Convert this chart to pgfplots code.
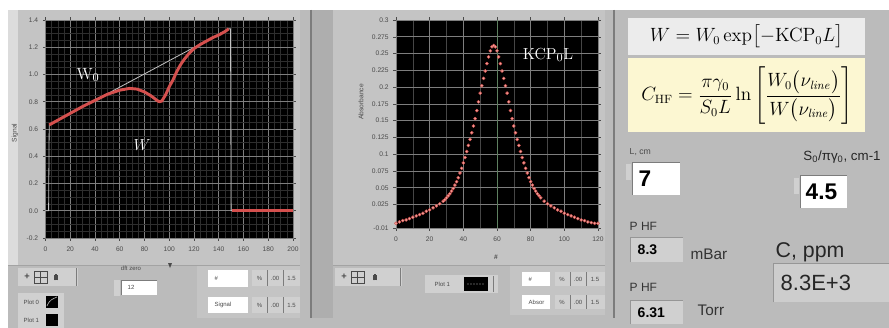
\documentclass[border=0pt]{standalone}
\usepackage{amsmath}
\usepackage{pgfplots}
\pgfplotsset{compat=1.18}
\usepackage[no-math]{fontspec}
\setmainfont{Liberation Sans}
\setsansfont{Liberation Sans}
\definecolor{panel}{HTML}{BBBBBB}
\definecolor{frame}{HTML}{C4C4C4}
\definecolor{band}{HTML}{AEAEAE}
\definecolor{sep}{HTML}{7C7C7C}
\definecolor{curve}{HTML}{D4504E}
\definecolor{dotfill}{HTML}{F2A8A0}
\definecolor{wzero}{HTML}{C4C4C4}
\definecolor{gmaj}{HTML}{7E7E7E}
\definecolor{gmin}{HTML}{2E2E2E}
\definecolor{ggreen}{HTML}{5E8060}
\definecolor{tickc}{HTML}{4A4A4A}
\definecolor{cream}{HTML}{FCF7D2}
\definecolor{boxgray}{HTML}{ECECEC}
\definecolor{fieldgray}{HTML}{D0D0D0}
\definecolor{ctrl}{HTML}{D0D0D0}

\pgfplotstableread{
x y
3 0.63
10 0.665
20 0.715
30 0.765
40 0.81
50 0.855
60 0.885
68 0.898
74 0.893
80 0.872
85 0.845
88 0.825
90 0.81
92 0.80
94 0.805
97 0.85
100 0.91
103 0.96
106 1.02
109 1.07
112 1.11
116 1.155
120 1.19
125 1.22
130 1.245
135 1.27
140 1.29
145 1.315
148 1.335
}\redW

\pgfplotstableread{
x y
0 0.0
2.5 0.0
3 0.63
148 1.335
149.5 1.335
150 0.0
200 0.0
}\grayW

\pgfplotstableread{
x y
0 -0.003
2 -0.001
4 0.001
6 0.002
8 0.004
10 0.006
12 0.008
14 0.010
16 0.012
18 0.015
20 0.017
22 0.020
24 0.023
26 0.026
28 0.030
29 0.032
30 0.035
31 0.038
32 0.041
33 0.045
34 0.049
35 0.054
36 0.059
37 0.065
38 0.072
39 0.079
40 0.087
41 0.095
42 0.104
43 0.113
44 0.122
45 0.132
46 0.142
47 0.153
48 0.165
49 0.178
50 0.191
51 0.202
52 0.213
53 0.224
54 0.235
55 0.245
56 0.254
57 0.260
58 0.262
59 0.260
60 0.254
61 0.245
62 0.235
63 0.224
64 0.213
65 0.202
66 0.191
67 0.178
68 0.165
69 0.153
70 0.142
71 0.132
72 0.122
73 0.113
74 0.104
75 0.095
76 0.087
77 0.079
78 0.072
79 0.065
80 0.059
81 0.054
82 0.049
83 0.045
84 0.041
85 0.038
86 0.035
88 0.030
90 0.026
92 0.023
94 0.020
96 0.017
98 0.015
100 0.012
102 0.010
104 0.008
106 0.006
108 0.004
110 0.002
112 0.001
114 -0.001
116 -0.002
118 -0.003
120 -0.003
}\absorb

\begin{document}
\begin{tikzpicture}[x=0.75pt,y=-0.75pt,font=\sffamily]
\useasboundingbox (0,0) rectangle (889,328);
% ---------- panel background ----------
\fill[panel] (0,0) rectangle (889,328);
\fill[white] (0,0) rectangle (889,10);
\fill[white] (0,0) rectangle (8,328);
\fill[frame] (8,10) rectangle (300,265);
\fill[frame!60!white] (8,10) rectangle (18,265);
\fill[band] (312,10) rectangle (333,318);
\fill[frame] (333,10) rectangle (605,265);
\draw[sep,line width=0.8pt] (311,10) -- (311,318);
\draw[sep,line width=0.8pt] (614,10) -- (614,318);
\draw[sep!70] (8,265) -- (300,265);
\draw[sep!70] (333,265) -- (605,265);

% ---------- left graph ----------
\begin{axis}[at={(34.125pt,-178.5pt)},anchor=south west,scale only axis,
  width=185.625pt,height=163.5pt,
  xmin=0,xmax=200,ymin=-0.2,ymax=1.4,
  axis background/.style={fill=black},
  axis line style={draw=gmaj,line width=0.4pt},
  xtick={0,20,40,60,80,100,120,140,160,180,200},
  xticklabels={0,20,40,60,80,100,120,140,160,180,200},
  ytick={-0.2,0,0.2,0.4,0.6,0.8,1.0,1.2,1.4},
  yticklabels={-0.2,0.0,0.2,0.4,0.6,0.8,1.0,1.2,1.4},
  minor x tick num=3,minor y tick num=3,
  grid=both,
  major grid style={draw=gmaj,line width=0.45pt},
  minor grid style={draw=gmin,line width=0.35pt},
  tick align=outside,major tick length=2pt,minor tick length=0pt,
  tick style={draw=tickc,line width=0.4pt},
  ticklabel style={font=\sffamily\fontsize{5}{6}\selectfont,text=tickc},
  xticklabel style={yshift=-1pt},
  /pgf/number format/assume math mode=true,
  clip=true]
\addplot[wzero,line width=0.6pt] table[x=x,y=y]{\grayW};
\addplot[curve,line width=2.2pt,line join=round] table[x=x,y=y]{\redW};
\addplot[curve,line width=2.2pt] coordinates {(151,0.0) (200,0.0)};
\end{axis}

% ---------- right graph ----------
\begin{axis}[at={(297pt,-171pt)},anchor=south west,scale only axis,
  width=151.5pt,height=156pt,
  xmin=0,xmax=120,ymin=-0.01,ymax=0.3,
  axis background/.style={fill=black},
  axis line style={draw=gmaj,line width=0.4pt},
  xtick={0,20,40,60,80,100,120},
  xticklabels={0,20,40,60,80,100,120},
  ytick={-0.01,0.025,0.05,0.075,0.1,0.125,0.15,0.175,0.2,0.225,0.25,0.275,0.3},
  yticklabels={-0.01,0.025,0.05,0.075,0.1,0.125,0.15,0.175,0.2,0.225,0.25,0.275,0.3},
  minor x tick num=1,
  xmajorgrids,xminorgrids,ymajorgrids,
  major grid style={draw=gmaj,line width=0.45pt},
  minor grid style={draw=gmin!70!gmaj,line width=0.4pt},
  tick align=outside,major tick length=2pt,minor tick length=0pt,
  tick style={draw=tickc,line width=0.4pt},
  ticklabel style={font=\sffamily\fontsize{5}{6}\selectfont,text=tickc},
  xticklabel style={yshift=-1pt},
  /pgf/number format/assume math mode=true,
  clip=true]
\addplot[ggreen,line width=0.5pt] coordinates {(60,-0.01) (60,0.3)};
\addplot[only marks,mark=*,mark size=1.15pt,
  mark options={draw=curve,fill=dotfill,line width=0.35pt}] table[x=x,y=y]{\absorb};
\end{axis}

% ---------- labels inside / near graphs ----------
\node[white,font=\fontsize{13}{15}\selectfont] at (88,75) {$\mathrm{W}_0$};
\node[white,font=\fontsize{13}{15}\selectfont] at (142,145) {$W$};
\node[white,font=\fontsize{13}{15}\selectfont] at (548,55) {$\mathrm{KCP}_0\mathrm{L}$};
\node[tickc,rotate=90,font=\fontsize{5}{6}\selectfont] at (15,133) {Signal};
\node[tickc,rotate=90,font=\fontsize{5}{6}\selectfont] at (361,102) {Absorbance};
\node[tickc,font=\bfseries\fontsize{5}{6}\selectfont] at (496,257) {\#};
\fill[tickc] (168,263) -- (172,263) -- (170,268) -- cycle;

% ---------- left bottom controls ----------
\fill[ctrl] (18,268) rectangle (78,286);
\draw[sep,line width=0.6pt] (76,268) -- (76,286);
\node[font=\bfseries\fontsize{7}{8}\selectfont,text=tickc] at (27,277) {+};
\draw[tickc,line width=0.7pt] (34,271) rectangle (47,283);
\draw[tickc,line width=0.4pt] (34,277) -- (47,277) (40.5,271) -- (40.5,283);
\node[font=\fontsize{6}{7}\selectfont,text=tickc] at (56,277) {\rule{1pt}{4pt}\rule{1pt}{5pt}\rule{1pt}{4pt}};
\fill[ctrl] (18,293) rectangle (64,328);
\node[anchor=west,font=\fontsize{4.5}{5}\selectfont,text=tickc] at (19,302) {Plot 0};
\node[anchor=west,font=\fontsize{4.5}{5}\selectfont,text=tickc] at (19,320) {Plot 1};
\fill[black] (46,296) rectangle (58,308);
\draw[white!70!black,line width=0.5pt] (47,306) .. controls (50,299) and (53,299) .. (57,297);
\fill[black] (46,314) rectangle (58,326);
\node[anchor=south,font=\fontsize{4.5}{5}\selectfont,text=tickc] at (131,275) {dft zero};
\fill[ctrl] (114,280) rectangle (120,296);
\fill[white] (121,280) rectangle (157,295);
\draw[sep,line width=0.4pt] (121,295) -- (121,280) -- (157,280);
\node[anchor=west,font=\fontsize{4.5}{5}\selectfont,text=tickc] at (123,287.5) {12};
\fill[frame] (197,266) rectangle (300,318);
\fill[white] (208,270) rectangle (248,287);
\fill[white] (208,297) rectangle (248,313);
\node[anchor=west,font=\fontsize{4.5}{5}\selectfont,text=tickc] at (210,278.5) {\#};
\node[anchor=west,font=\fontsize{4.5}{5}\selectfont,text=tickc] at (210,305) {Signal};
\foreach \yy in {270,297}{
  \fill[ctrl] (252,\yy) rectangle (300,\yy+16);
  \draw[sep,line width=0.4pt] (267,\yy) -- (267,\yy+16) (283,\yy) -- (283,\yy+16);
  \node[font=\fontsize{4.5}{5}\selectfont,text=tickc] at (259.5,\yy+8) {\%};
  \node[font=\fontsize{4.5}{5}\selectfont,text=tickc] at (275,\yy+8) {.00};
  \node[font=\fontsize{4.5}{5}\selectfont,text=tickc] at (291.5,\yy+8) {1.5};
}

% ---------- right bottom controls ----------
\fill[ctrl] (335,268) rectangle (402,286);
\draw[sep,line width=0.6pt] (400,268) -- (400,286);
\node[font=\bfseries\fontsize{7}{8}\selectfont,text=tickc] at (344,277) {+};
\draw[tickc,line width=0.7pt] (351,271) rectangle (364,283);
\draw[tickc,line width=0.4pt] (351,277) -- (364,277) (357.5,271) -- (357.5,283);
\node[font=\fontsize{6}{7}\selectfont,text=tickc] at (375,277) {\rule{1pt}{4pt}\rule{1pt}{5pt}\rule{1pt}{4pt}};
\fill[ctrl] (425,275) rectangle (498,293);
\node[anchor=west,font=\fontsize{4.5}{5}\selectfont,text=tickc] at (430,284) {Plot 1};
\fill[black] (464,277) rectangle (488,291);
\foreach \xx in {468,471,474,477,480,483}{\fill[white!70!black] (\xx,284) circle (0.7);}
\draw[sep,line width=0.6pt] (493,276) -- (493,292);
\fill[frame] (510,266) rectangle (605,315);
\fill[white] (522,272) rectangle (550,286);
\fill[white] (522,295) rectangle (550,309);
\node[anchor=west,font=\fontsize{4.5}{5}\selectfont,text=tickc] at (524,279) {\#};
\node[anchor=west,font=\fontsize{4.5}{5}\selectfont,text=tickc] at (524,302) {Absor};
\foreach \yy in {272,295}{
  \fill[ctrl] (555,\yy) rectangle (605,\yy+14);
  \draw[sep,line width=0.4pt] (570,\yy) -- (570,\yy+14) (586,\yy) -- (586,\yy+14);
  \node[font=\fontsize{4.5}{5}\selectfont,text=tickc] at (562,\yy+7) {\%};
  \node[font=\fontsize{4.5}{5}\selectfont,text=tickc] at (578,\yy+7) {.00};
  \node[font=\fontsize{4.5}{5}\selectfont,text=tickc] at (595,\yy+7) {1.5};
}

% ---------- formulas ----------
\fill[boxgray] (628,18) rectangle (865,55);
\node[font=\fontsize{13.5}{15}\selectfont] at (746.5,36.5)
  {$W = W_0\exp\bigl[-\mathrm{KCP}_0L\bigr]$};
\fill[cream] (628,58) rectangle (865,132);
\node[font=\fontsize{13.5}{15}\selectfont] at (747,96)
  {$C_{\mathrm{HF}} = \dfrac{\pi\gamma_0}{S_0L}\ln\left[\dfrac{W_0\bigl(\nu_{\mathit{line}}\bigr)}{W\bigl(\nu_{\mathit{line}}\bigr)}\right]$};

% ---------- numeric fields ----------
\node[anchor=west,font=\fontsize{6.5}{7}\selectfont,text=tickc] at (625,152) {L, cm};
\fill[ctrl] (626,164) rectangle (631,180);
\fill[white] (632,162) rectangle (680,195);
\draw[sep,line width=0.5pt] (632,195) -- (632,162) -- (680,162);
\node[anchor=west,font=\bfseries\fontsize{17}{18}\selectfont] at (634,179) {7};

\node[font=\fontsize{10}{11}\selectfont,text=black!85] at (842,157) {S\textsubscript{0}/πγ\textsubscript{0}, cm-1};
\fill[ctrl] (794,178) rectangle (799,194);
\fill[white] (800,175) rectangle (847,208);
\draw[sep,line width=0.5pt] (800,208) -- (800,175) -- (847,175);
\node[anchor=west,font=\bfseries\fontsize{17}{18}\selectfont] at (801,192) {4.5};

\node[anchor=west,font=\fontsize{9}{10}\selectfont,text=black!80] at (625,226) {P HF};
\fill[fieldgray] (630,237) rectangle (683,262);
\draw[sep!80,line width=0.5pt] (630,262) -- (630,237) -- (683,237);
\node[anchor=west,font=\bfseries\fontsize{10.5}{11}\selectfont] at (633,250) {8.3};
\node[anchor=west,font=\fontsize{11.5}{12}\selectfont,text=black!80] at (686,254) {mBar};

\node[anchor=west,font=\fontsize{9}{10}\selectfont,text=black!80] at (625,287) {P HF};
\fill[fieldgray] (630,300) rectangle (683,324);
\draw[sep!80,line width=0.5pt] (630,324) -- (630,300) -- (683,300);
\node[anchor=west,font=\bfseries\fontsize{10.5}{11}\selectfont] at (633,312.5) {6.31};
\node[anchor=west,font=\fontsize{11.5}{12}\selectfont,text=black!80] at (693,310) {Torr};

\node[anchor=west,font=\fontsize{16}{17}\selectfont,text=black!85] at (771,252) {C, ppm};
\fill[fieldgray!85!panel] (773,263) rectangle (889,302);
\draw[sep!80,line width=0.6pt] (773,302) -- (773,263) -- (889,263);
\node[anchor=west,font=\fontsize{16.5}{17}\selectfont,text=black!85] at (776,283) {8.3E+3};
\end{tikzpicture}
\end{document}
